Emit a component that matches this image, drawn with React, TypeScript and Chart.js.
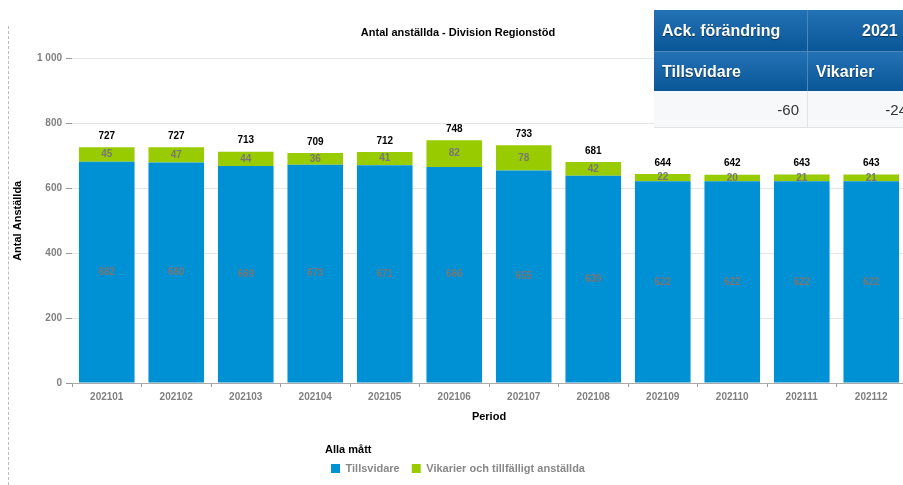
import React, { useEffect, useRef } from "react";
import { Chart, registerables } from "chart.js";

Chart.register(...registerables);

const FONT = "'Liberation Sans', Arial, Helvetica, sans-serif";

const categories = ["202101", "202102", "202103", "202104", "202105", "202106", "202107", "202108", "202109", "202110", "202111", "202112"];
const tillsvidare = [682, 680, 669, 673, 671, 666, 655, 639, 622, 622, 622, 622];
const vikarier = [45, 47, 44, 36, 41, 82, 78, 42, 22, 20, 21, 21];
const totals = [727, 727, 713, 709, 712, 748, 733, 681, 644, 642, 643, 643];
const yMin = 0;
const yMax = 1000;
const yStep = 200;

const seriesNames = ["Tillsvidare", "Vikarier och tillfälligt anställda"];
const seriesColors = ["#0090d4", "#99cc00"];

const tableHeader = ["Ack. förändring", "2021"];
const tableSubHeader = ["Tillsvidare", "Vikarier"];
const tableValues = ["-60", "-24"];

const formatTick = (v: number) => {
  const s = String(Math.round(v));
  return s.replace(/\B(?=(\d{3})+(?!\d))/g, " ");
};

const labelPlugin = {
  id: "barLabels",
  afterDatasetsDraw(chart: any) {
    const ctx = chart.ctx;
    const m0 = chart.getDatasetMeta(0);
    const m1 = chart.getDatasetMeta(1);
    const ys = chart.scales.y;
    ctx.save();
    ctx.textAlign = "center";
    ctx.textBaseline = "middle";
    ctx.font = `bold 10px ${FONT}`;
    m0.data.forEach((bar: any, i: number) => {
      const x = bar.x;
      ctx.fillStyle = "#777777";
      ctx.fillText(String(tillsvidare[i]), x, (bar.y + bar.base) / 2);
      const b1 = m1.data[i];
      ctx.fillText(String(vikarier[i]), x, (b1.y + b1.base) / 2);
      ctx.fillStyle = "#000000";
      ctx.fillText(String(totals[i]), x, ys.getPixelForValue(totals[i]) - 11);
    });
    ctx.restore();
  },
};

function ChartCanvas() {
  const ref = useRef<HTMLCanvasElement | null>(null);
  useEffect(() => {
    if (!ref.current) return;
    Chart.defaults.font.family = FONT;
    const chart = new Chart(ref.current, {
      type: "bar",
      data: {
        labels: categories,
        datasets: [
          {
            label: seriesNames[0],
            data: tillsvidare,
            backgroundColor: seriesColors[0],
            borderWidth: 0,
            barPercentage: 0.8,
            categoryPercentage: 1.0,
          },
          {
            label: seriesNames[1],
            data: vikarier,
            backgroundColor: seriesColors[1],
            borderWidth: 0,
            barPercentage: 0.8,
            categoryPercentage: 1.0,
          },
        ],
      },
      options: {
        animation: false,
        responsive: false,
        maintainAspectRatio: false,
        layout: { padding: { left: 10, right: 14, top: 0, bottom: 1 } },
        plugins: {
          title: {
            display: true,
            text: "Antal anställda - Division Regionstöd",
            color: "#000000",
            font: { size: 11, weight: "bold" },
            padding: { top: 26, bottom: 19.4 },
          },
          legend: {
            position: "bottom",
            title: {
              display: true,
              text: "Alla mått",
              color: "#000000",
              position: "start",
              font: { size: 11, weight: "bold" },
              padding: { top: 21.6, bottom: -7 },
            },
            labels: {
              boxWidth: 9,
              boxHeight: 9,
              color: "#888888",
              font: { size: 11, weight: "bold" },
              padding: 12,
            },
          },
          tooltip: { enabled: false },
        },
        scales: {
          x: {
            stacked: true,
            grid: {
              offset: true,
              drawOnChartArea: false,
              drawTicks: true,
              tickLength: 4,
              tickColor: "#999999",
            },
            border: { color: "#aaaaaa" },
            ticks: {
              color: "#808080",
              font: { size: 10, weight: "bold" },
              padding: 4,
              maxRotation: 0,
              autoSkip: false,
            },
            title: {
              display: true,
              text: "Period",
              color: "#000000",
              font: { size: 11, weight: "bold" },
              padding: { top: 3, bottom: 0 },
            },
          },
          y: {
            stacked: true,
            min: yMin,
            max: yMax,
            ticks: {
              stepSize: yStep,
              color: "#808080",
              font: { size: 10, weight: "bold" },
              padding: 4,
              callback: (v: any) => formatTick(Number(v)),
            },
            grid: { color: "#e6e6e6", tickColor: "#999999", tickLength: 6 },
            border: { display: false },
            title: {
              display: true,
              text: "Antal Anställda",
              color: "#000000",
              font: { size: 11, weight: "bold" },
              padding: { top: 1.4, bottom: 0 },
            },
            afterFit: (s: any) => {
              s.width = 62;
            },
          },
        },
      } as any,
      plugins: [labelPlugin],
    });
    return () => chart.destroy();
  }, []);
  return <canvas ref={ref} width={920} height={485} style={{ display: "block" }} />;
}

const headerCell: React.CSSProperties = {
  position: "absolute",
  boxSizing: "border-box",
  background: "linear-gradient(#2372b5, #0a5697)",
  color: "#ffffff",
  fontFamily: FONT,
  fontWeight: "bold",
  fontSize: 16,
  textShadow: "0 1px 1px rgba(0,0,0,0.5)",
  display: "flex",
  alignItems: "center",
  whiteSpace: "nowrap",
};

const valueCell: React.CSSProperties = {
  position: "absolute",
  boxSizing: "border-box",
  background: "#f6f8fa",
  color: "#333333",
  fontFamily: FONT,
  fontSize: 15,
  display: "flex",
  alignItems: "center",
  justifyContent: "flex-end",
  paddingRight: 8,
  borderBottom: "1px solid #e2e2e2",
  borderRight: "1px solid #e2e2e2",
  whiteSpace: "nowrap",
};

function Table() {
  return (
    <div style={{ position: "absolute", left: 654, top: 10, width: 380, height: 118 }}>
      <div style={{ ...headerCell, left: 0, top: 0, width: 154, height: 42, paddingLeft: 8, borderRight: "1px solid #4d86bb", borderBottom: "1px solid #4d86bb" }}>
        {tableHeader[0]}
      </div>
      <div style={{ ...headerCell, left: 154, top: 0, width: 226, height: 42, paddingLeft: 54, borderBottom: "1px solid #4d86bb" }}>
        {tableHeader[1]}
      </div>
      <div style={{ ...headerCell, left: 0, top: 42, width: 154, height: 39, paddingLeft: 8, borderRight: "1px solid #4d86bb" }}>
        {tableSubHeader[0]}
      </div>
      <div style={{ ...headerCell, left: 154, top: 42, width: 226, height: 39, paddingLeft: 8 }}>
        {tableSubHeader[1]}
      </div>
      <div style={{ ...valueCell, left: 0, top: 81, width: 154, height: 37 }}>{tableValues[0]}</div>
      <div style={{ ...valueCell, left: 154, top: 81, width: 108, height: 37 }}>{tableValues[1]}</div>
      <div style={{ ...valueCell, left: 262, top: 81, width: 118, height: 37 }}></div>
    </div>
  );
}

export default function App() {
  return (
    <div style={{ position: "absolute", left: 0, top: 0, width: 903, height: 485, overflow: "hidden", background: "#ffffff" }}>
      <ChartCanvas />
      <div style={{ position: "absolute", left: 8, top: 26, bottom: 0, borderLeft: "1px dashed #bdbdbd" }} />
      <Table />
    </div>
  );
}
